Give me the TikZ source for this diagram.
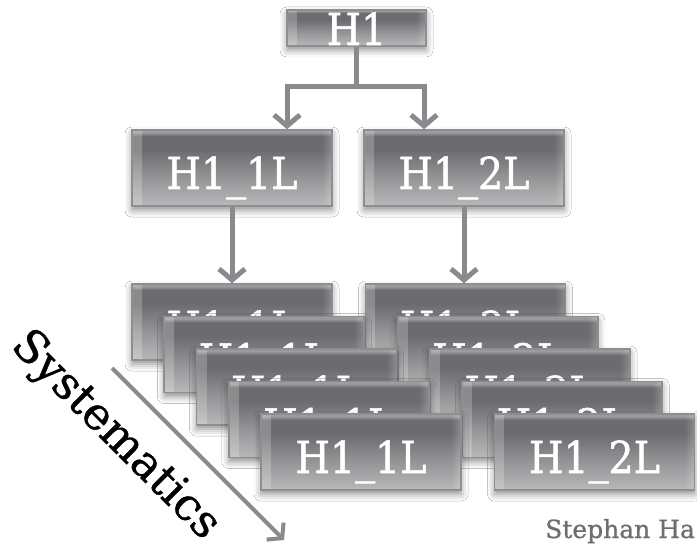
\documentclass[tikz,border=0pt]{standalone}
\usepackage{fontspec}
\usetikzlibrary{arrows.meta,shadows.blur,fadings}
\newfontfamily\slabfont[FakeStretch=0.9,FakeBold=1.2]{DejaVu Serif}
\newfontfamily\slabwide[FakeBold=0.8]{DejaVu Serif}
\definecolor{boxbot}{HTML}{B8B8BA}
\definecolor{boxmid}{HTML}{98989B}
\definecolor{boxtop}{HTML}{6C6C70}
\definecolor{boxhi}{HTML}{9C9C9E}
\definecolor{boxedge}{HTML}{8E8E91}
\definecolor{linkgray}{HTML}{8A8A8E}
\definecolor{notegray}{HTML}{6E6E6E}
% box fill: light at the bottom, dark towards the top, thin highlight at the top edge
\pgfdeclareverticalshading{boxshade}{100bp}{color(0bp)=(boxbot); color(25bp)=(boxbot); color(42bp)=(boxmid); color(62bp)=(boxtop); color(71bp)=(boxtop); color(73.5bp)=(boxhi); color(75bp)=(boxhi); color(100bp)=(boxhi)}
\tikzset{
  sideglow/.style={path picture={
    \fill[white, opacity=0.22, path fading=east]
      (path picture bounding box.south west) rectangle ([xshift=10pt]path picture bounding box.north west);
    \fill[white, opacity=0.22, path fading=west]
      ([xshift=-10pt]path picture bounding box.south east) rectangle (path picture bounding box.north east);
  }},
  hbox/.style={rectangle, draw=boxedge, line width=1.6pt, shading=boxshade, sideglow,
    minimum width=200pt, minimum height=76pt, inner sep=0pt, text=white,
    font=\slabfont\fontsize{44}{44}\selectfont, text height=42pt, text depth=0pt,
    blur shadow={shadow xshift=0pt, shadow yshift=-4pt, shadow blur radius=7pt, shadow opacity=45}},
  topbox/.style={hbox, minimum width=139pt, minimum height=36pt, text height=34pt},
  conn/.style={draw=linkgray, line width=5pt},
  arr/.style={-{Straight Barb[length=11pt,width=26pt]}},
}
\begin{document}
\begin{tikzpicture}[x=1pt,y=-1pt]
  \fill[white] (0,0) rectangle (697,548);
  \useasboundingbox (0,0) rectangle (697,548);

  % tree
  \node[topbox] (h1) at (356.5,28) {H1};
  \node[hbox] (b1) at (232,168) {H1\_1L};
  \node[hbox] (b2) at (464,168) {H1\_2L};

  % stacked variations, back to front
  \foreach \i in {0,...,4}{
    \node[hbox] (l\i) at ({232+32.25*\i},{322+32.5*\i}) {H1\_1L};
    \node[hbox] (r\i) at ({465.5+32.25*\i},{322+32.5*\i}) {H1\_2L};
  }

  \coordinate (split) at (356.5,87);
  \draw[conn] (h1.south) -- (split);
  \draw[conn,arr] (split) -| ([xshift=55pt]b1.north);
  \draw[conn,arr] (split) -| ([xshift=-40pt]b2.north);
  \draw[conn,arr] (b1.south) -- (b1.south |- l0.north);
  \draw[conn,arr] (b2.south) -- (b2.south |- r0.north);

  % systematics axis
  \coordinate (sysA) at (112,368);
  \coordinate (sysB) at (284,540);
  \draw[draw=linkgray, line width=4pt, -{Straight Barb[length=10pt,width=24pt]}] (sysA) -- (sysB);
  \node[rotate=-45, font=\slabwide\fontsize{45}{45}\selectfont] (sys) at (115,436) {Systematics};

  \node[anchor=base west, inner sep=0pt, text=notegray, font=\slabwide\fontsize{25}{25}\selectfont] (author) at (545,538) {Stephan Ha};
\end{tikzpicture}
\end{document}
